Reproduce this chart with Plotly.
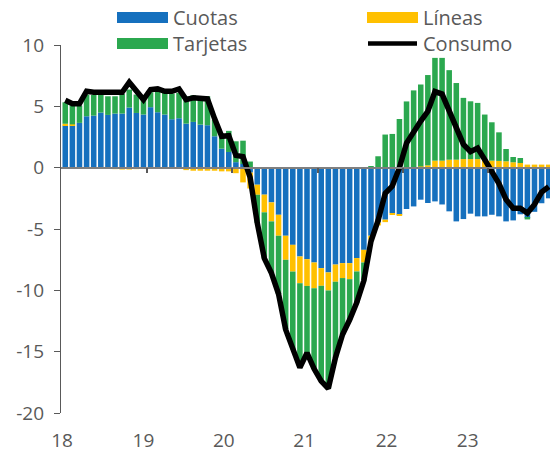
import plotly.graph_objects as go

# ---- data (contributions, pp) ----
anios = [2018, 2019, 2020, 2021, 2022, 2023]
meses = [f"{y}-{m:02d}" for y in anios for m in range(1, 13)][:69]

cuotas = [3.43, 3.43, 3.65, 4.19, 4.24, 4.49, 4.30, 4.41, 4.41, 4.90, 4.46, 4.33,
          4.93, 4.52, 4.33, 3.95, 4.03, 3.59, 3.73, 3.51, 3.46, 2.56, 1.55, 1.28,
          0.45, 0.30, -0.40, -1.39, -2.20, -2.83, -3.84, -5.55, -6.29, -7.24, -7.46, -7.73,
          -8.19, -8.54, -7.90, -7.78, -7.78, -7.37, -6.70, -5.55, -4.46, -4.24, -3.70, -3.84,
          -3.37, -3.16, -2.61, -2.88, -2.75, -3.00, -3.56, -4.38, -4.19, -3.75, -3.97, -3.97,
          -3.84, -3.97, -4.38, -4.30, -3.80, -4.10, -3.60, -2.90, -2.50]
lineas = [0.15, 0.10, 0.0, 0.0, 0.0, 0.0, -0.08, -0.12, -0.15, -0.15, -0.12, 0.0,
          0.0, 0.0, 0.0, 0.0, 0.0, -0.20, -0.25, -0.25, -0.25, -0.25, -0.30, -0.30,
          -0.45, -1.20, -1.30, -0.82, -1.44, -1.55, -1.71, -1.96, -2.18, -2.18, -2.18, -2.10,
          -1.44, -1.47, -1.40, -1.22, -1.31, -1.09, -1.03, -0.33, -0.25, -0.20, -0.15, -0.10,
          0.05, 0.05, 0.10, 0.19, 0.57, 0.57, 0.65, 0.65, 0.70, 0.70, 0.70, 0.57,
          0.57, 0.55, 0.52, 0.44, 0.38, 0.25, 0.25, 0.25, 0.25]
tarjetas = [1.75, 1.53, 1.41, 1.77, 1.69, 1.44, 1.52, 1.41, 1.60, 1.47, 1.50, 1.22,
            1.22, 1.85, 1.77, 2.09, 2.07, 2.23, 2.17, 2.31, 2.36, 1.34, 1.00, 1.72,
            1.70, 1.90, 0.50, -2.29, -3.76, -4.22, -4.75, -5.69, -6.33, -6.88, -5.46, -6.57,
            -7.77, -7.99, -6.20, -4.60, -3.31, -2.54, -1.47, 0.10, 0.93, 2.70, 2.75, 3.97,
            5.35, 6.25, 6.68, 7.36, 8.38, 8.38, 7.30, 6.25, 4.99, 4.71, 4.58, 3.76,
            3.13, 2.33, 1.00, 0.43, 0.41, -0.12, 0.0, 0.0, 0.0]
consumo = [5.50, 5.22, 5.22, 6.23, 6.15, 6.15, 6.04, 6.15, 6.15, 6.97, 6.23, 5.55,
           6.37, 6.42, 6.23, 6.23, 6.42, 5.55, 5.69, 5.63, 5.60, 4.00, 2.56, 2.61,
           1.00, 0.90, -0.80, -4.50, -7.40, -8.60, -10.30, -13.20, -14.80, -16.30, -15.10, -16.40,
           -17.40, -18.00, -15.50, -13.60, -12.40, -11.00, -9.20, -6.00, -4.30, -2.10, -1.50, 0.00,
           2.00, 3.00, 3.80, 4.60, 6.20, 6.00, 4.70, 3.30, 1.90, 1.30, 1.60, 0.65,
           -0.30, -1.30, -2.60, -3.30, -3.30, -3.70, -3.00, -2.00, -1.55]

etiquetas_x = ["18", "19", "20", "21", "22", "23"]
ticks_y = [10, 5, 0, -5, -10, -15, -20]

# ---- style ----
AZUL = "#1570BE"
AMARILLO = "#FFC000"
VERDE = "#2BA84F"
GRIS = "#595959"
FUENTE = "Open Sans"

xb = [i + 0.5 for i in range(len(meses))]

fig = go.Figure()
for nombre, vals, col in [("Cuotas", cuotas, AZUL), ("Líneas", lineas, AMARILLO),
                          ("Tarjetas", tarjetas, VERDE)]:
    fig.add_trace(go.Bar(x=xb, y=vals, name=nombre, marker=dict(color=col, line=dict(width=0)),
                         showlegend=False, customdata=meses,
                         hovertemplate="%{customdata}: %{y}<extra>" + nombre + "</extra>"))
fig.add_trace(go.Scatter(x=xb, y=consumo, name="Consumo", mode="lines",
                         line=dict(color="black", width=5.5), showlegend=False,
                         customdata=meses,
                         hovertemplate="%{customdata}: %{y}<extra>Consumo</extra>"))

XR = [-0.1, 68.68]
lab_pos = [0.05, 11.5, 22.8, 34.1, 45.7, 57.1]

L, T, B = 61, 45, 413  # plot area in page pixels
W, H = 550, 453

fig.update_layout(
    width=W, height=H,
    margin=dict(l=L, r=0, t=T, b=H - B),
    paper_bgcolor="white", plot_bgcolor="white",
    barmode="relative", bargap=0.22,
    font=dict(family=FUENTE, color=GRIS, size=19),
    xaxis=dict(range=XR, showgrid=False, zeroline=False, showline=False,
               tickvals=lab_pos, ticktext=etiquetas_x, ticks="",
               tickfont=dict(size=19, color=GRIS), ticklabelstandoff=14, automargin=False),
    xaxis2=dict(range=XR, overlaying="x", anchor="free", position=20 / 30,
                showgrid=False, zeroline=False, showline=True, linecolor="#7F7F7F",
                linewidth=1.5, ticks="outside", ticklen=5, tickwidth=1.5,
                tickcolor="#595959", tickvals=[12, 24, 36, 48, 60],
                showticklabels=False),
    yaxis=dict(range=[-20, 10], showgrid=False, zeroline=False, showline=True,
               linecolor=GRIS, linewidth=1.3, ticks="outside", ticklen=6,
               tickcolor=GRIS, tickwidth=1.3, tickvals=ticks_y,
               ticktext=[str(v) for v in ticks_y], tickfont=dict(size=19, color=GRIS),
               ticklabelstandoff=6, automargin=False),
    showlegend=False,
)
fig.add_trace(go.Scatter(x=[None], y=[None], xaxis="x2", showlegend=False, hoverinfo="skip"))

# ---- custom legend ----
PW, PH = W - L, B - T

def px_x(p):
    return (p - L) / PW

def px_y(p):
    return (B - p) / PH

leyenda = [("Cuotas", AZUL, 117, 17.5, "bar"), ("Líneas", AMARILLO, 367, 17.5, "bar"),
           ("Tarjetas", VERDE, 117, 43.5, "bar"), ("Consumo", "black", 367, 43.5, "line")]
for nombre, col, x0, yc, tipo in leyenda:
    if tipo == "bar":
        fig.add_shape(type="rect", xref="paper", yref="paper",
                      x0=px_x(x0), x1=px_x(x0 + 51), y0=px_y(yc + 5.5), y1=px_y(yc - 5.5),
                      fillcolor=col, line=dict(width=0))
    else:
        fig.add_shape(type="line", xref="paper", yref="paper",
                      x0=px_x(x0 + 1), x1=px_x(x0 + 50), y0=px_y(yc), y1=px_y(yc),
                      line=dict(color=col, width=4.5))
    fig.add_annotation(text=nombre, xref="paper", yref="paper", x=px_x(x0 + 54),
                       y=px_y(yc), xanchor="left", yanchor="middle", showarrow=False,
                       font=dict(size=20, color=GRIS, family=FUENTE))

fig.write_html("out.html", config={"displayModeBar": False},
               post_script="document.body.style.margin='0';")
